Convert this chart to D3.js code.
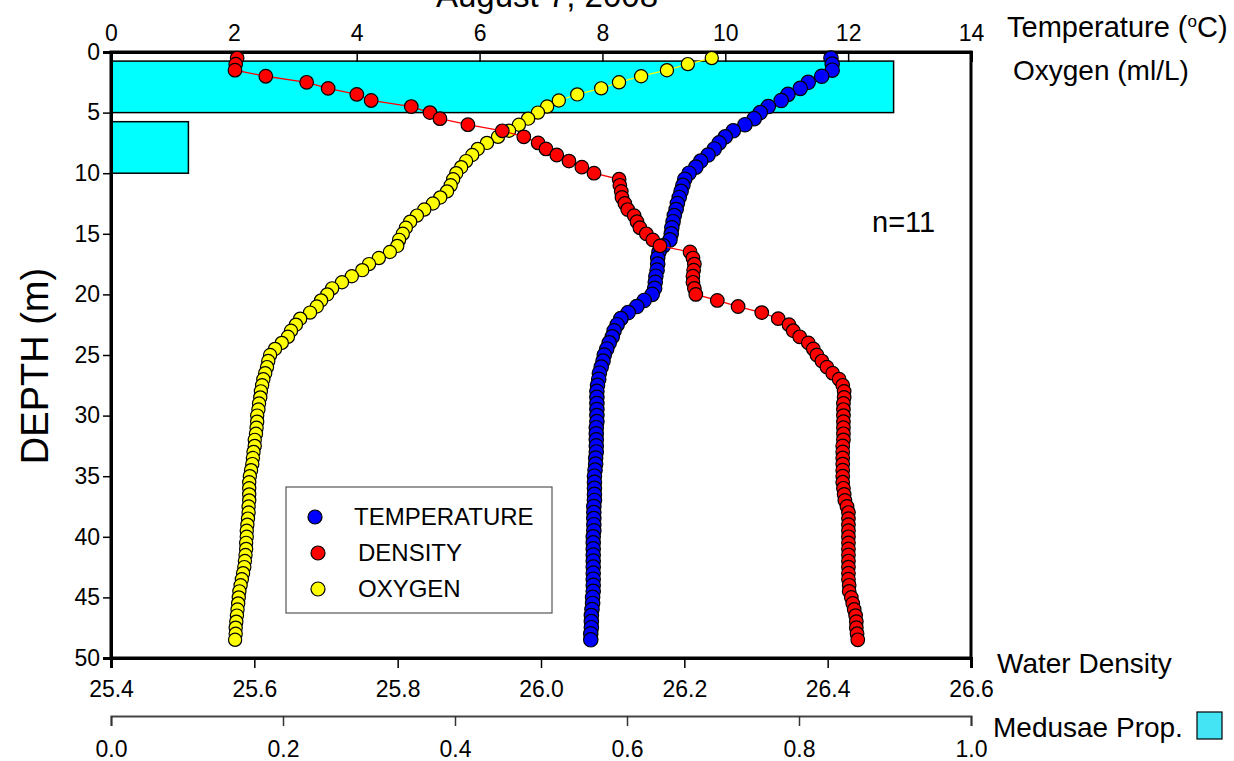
<!DOCTYPE html>
<html>
<head>
<meta charset="utf-8">
<script src="https://cdn.jsdelivr.net/npm/d3@7"></script>
<style>
	body { margin: 0; background: #fff; }
	svg { font-family: "Liberation Sans", Arial, sans-serif; }
</style>
</head>
<body>
<div id="chart"></div>
<script>
// depth of each CTD sample (m)
var depths = [0.5,1,1.5,2,2.5,3,3.5,4,4.5,5,5.5,6,6.5,7,7.5,8,8.5,9,9.5,10,
	10.5,11,11.5,12,12.5,13,13.5,14,14.5,15,15.5,16,16.5,17,17.5,18,18.5,19,19.5,20,
	20.5,21,21.5,22,22.5,23,23.5,24,24.5,25,25.5,26,26.5,27,27.5,28,28.5,29,29.5,30,
	30.5,31,31.5,32,32.5,33,33.5,34,34.5,35,35.5,36,36.5,37,37.5,38,38.5,39,39.5,40,
	40.5,41,41.5,42,42.5,43,43.5,44,44.5,45,45.5,46,46.5,47,47.5,48,48.5];

// temperature (oC), top axis
var temperature = [11.72,11.74,11.74,11.57,11.35,11.22,11.02,10.91,10.70,10.57,
	10.47,10.32,10.13,10.00,9.90,9.82,9.72,9.60,9.52,9.41,
	9.34,9.31,9.28,9.25,9.22,9.20,9.17,9.15,9.13,9.12,
	9.10,8.99,8.92,8.90,8.90,8.89,8.87,8.86,8.85,8.81,
	8.68,8.56,8.42,8.30,8.24,8.19,8.16,8.11,8.07,8.03,
	8.01,7.98,7.95,7.94,7.92,
	7.91,7.91,7.91,7.91,7.91,7.91,7.90,7.90,7.90,7.90,7.90,
	7.89,7.89,7.88,7.87,
	7.87,7.87,7.87,7.87,7.86,7.86,
	7.86,7.86,7.86,7.85,
	7.85,7.85,7.85,7.85,7.85,7.85,
	7.85,7.85,7.85,7.84,
	7.84,7.83,7.82,7.82,7.82,7.81,7.81];

// oxygen (ml/L), top axis
var oxygen = [9.78,9.39,9.05,8.63,8.27,7.98,7.59,7.29,7.10,6.95,
	6.79,6.64,6.48,6.30,6.12,5.97,5.88,5.78,5.70,5.62,
	5.57,5.53,5.47,5.36,5.24,5.10,4.98,4.87,4.80,4.75,
	4.69,4.66,4.54,4.36,4.20,4.09,3.92,3.76,3.60,3.52,
	3.42,3.35,3.24,3.08,3.01,2.93,2.88,2.78,2.67,
	2.59,2.56,2.54,2.51,2.48,2.46,2.44,2.43,2.41,2.40,
	2.38,2.38,2.37,2.36,2.34,2.34,2.32,2.31,2.30,2.28,
	2.26,2.25,2.25,2.25,2.25,2.24,2.24,2.23,2.22,2.21,
	2.21,2.20,2.20,2.19,2.18,2.17,2.15,2.13,2.11,2.09,
	2.08,2.07,2.06,2.05,2.04,2.03,2.03,2.02];

// water density (sigma-t), bottom axis
var density = [25.576,25.574,25.573,25.616,25.673,25.703,25.743,25.763,25.819,25.845,
	25.859,25.898,25.946,25.976,25.996,26.007,26.022,26.039,26.057,26.074,
	26.109,26.110,26.112,26.113,26.117,26.121,26.130,26.134,26.138,26.147,
	26.156,26.166,26.208,26.212,26.214,26.213,26.212,26.212,26.214,26.216,
	26.246,26.275,26.308,26.331,26.346,26.352,26.361,26.373,26.380,26.385,
	26.392,26.399,26.407,26.416,26.421,26.423,
	26.423,26.422,26.422,26.422,26.422,26.422,26.422,26.422,26.421,26.421,
	26.421,26.421,26.421,26.421,26.421,26.422,26.423,26.424,26.427,26.429,
	26.429,26.429,26.429,26.429,26.429,26.429,26.429,26.429,26.429,26.429,
	26.429,26.430,26.430,26.433,26.435,26.437,26.439,26.440,26.440,26.441,26.442];

// medusae proportion per depth bin
var medusaeBinTop = [0, 5];
var medusaeBinBottom = [5, 10];
var medusaeProp = [0.91, 0.09];

var topTicks = [0, 2, 4, 6, 8, 10, 12, 14];
var depthTicks = [0, 5, 10, 15, 20, 25, 30, 35, 40, 45, 50];
var densityTicks = [25.4, 25.6, 25.8, 26.0, 26.2, 26.4, 26.6];
var medusaeTicks = [0, 0.2, 0.4, 0.6, 0.8, 1.0];

var legendNames = ["TEMPERATURE", "DENSITY", "OXYGEN"];
var sampleCount = 11;

var W = 1234, H = 761;
var margins = { left: 111, right: 263, top: 52, bottom: 103 };

var svg = d3.select("#chart")
	.append("svg")
	.attr("width", W)
	.attr("height", H);

var x = d3.scaleLinear().domain([0, 14]).range([margins.left, W - margins.right]);
var xDen = d3.scaleLinear().domain([25.4, 26.6]).range([margins.left, W - margins.right]);
var xMed = d3.scaleLinear().domain([0, 1]).range([margins.left, W - margins.right]);
var y = d3.scaleLinear().domain([0, 50]).range([margins.top, H - margins.bottom]);

// medusae bars (85% of each 5 m bin, sitting at the bin bottom)
svg.selectAll("rect.med")
	.data(medusaeProp)
	.enter()
	.append("rect")
	.attr("class", "med")
	.attr("x", xMed(0))
	.attr("y", function(d, i) { return y(medusaeBinBottom[i] - 0.85 * (medusaeBinBottom[i] - medusaeBinTop[i])); })
	.attr("width", function(d) { return xMed(d) - xMed(0); })
	.attr("height", function(d, i) { return y(medusaeBinBottom[i]) - y(medusaeBinBottom[i] - 0.85 * (medusaeBinBottom[i] - medusaeBinTop[i])); })
	.style("fill", "#00ffff")
	.style("stroke", "black")
	.style("stroke-width", 1.5);

// axes
var topAxis = svg.append("g")
	.attr("transform", "translate(0," + y(0) + ")")
	.call(d3.axisTop(x).tickValues(topTicks).tickSize(-10).tickPadding(11).tickFormat(d3.format("d")));
var leftAxis = svg.append("g")
	.attr("transform", "translate(" + x(0) + ",0)")
	.call(d3.axisLeft(y).tickValues(depthTicks).tickSize(8).tickPadding(3).tickFormat(d3.format("d")));
var denAxis = svg.append("g")
	.attr("transform", "translate(0," + y(50) + ")")
	.call(d3.axisBottom(xDen).tickValues(densityTicks).tickSize(10).tickPadding(13).tickFormat(d3.format(".1f")));
var medAxis = svg.append("g")
	.attr("transform", "translate(0,716)")
	.call(d3.axisBottom(xMed).tickValues(medusaeTicks).tickSize(10).tickPadding(15).tickFormat(d3.format(".1f")));

[topAxis, leftAxis, denAxis, medAxis].forEach(function(a) {
	a.attr("font-size", 23).attr("font-family", "Liberation Sans, Arial, sans-serif");
	a.selectAll("text").attr("font-size", 23).style("font-size", "23px").style("fill", "black");
	a.selectAll("line").style("stroke", "black").style("stroke-width", 1.5);
	a.select(".domain").style("stroke", "black").style("stroke-width", 3);
});
medAxis.select(".domain").style("stroke", "#444").style("stroke-width", 2);
medAxis.selectAll("line").style("stroke", "#333");

// frame
svg.append("rect")
	.attr("x", x(0))
	.attr("y", y(0))
	.attr("width", x(14) - x(0))
	.attr("height", y(50) - y(0))
	.style("fill", "none")
	.style("stroke", "black")
	.style("stroke-width", 3);

// profiles
var series = [
	{ name: "OXYGEN", values: oxygen, scale: x, fill: "#ffff00", r: 6.6 },
	{ name: "TEMPERATURE", values: temperature, scale: x, fill: "#0000ff", r: 7.2 },
	{ name: "DENSITY", values: density, scale: xDen, fill: "#ff0000", r: 6.8 }
];

series.forEach(function(s) {
	var line = d3.line()
		.x(function(d, i) { return s.scale(d); })
		.y(function(d, i) { return y(depths[i]); });
	svg.append("path")
		.datum(s.values)
		.attr("d", line)
		.style("fill", "none")
		.style("stroke", s.fill)
		.style("stroke-width", 1.3);
	svg.selectAll("circle." + s.name)
		.data(s.values)
		.enter()
		.append("circle")
		.attr("class", s.name)
		.attr("cx", function(d) { return s.scale(d); })
		.attr("cy", function(d, i) { return y(depths[i]); })
		.attr("r", s.r)
		.style("fill", s.fill)
		.style("stroke", "black")
		.style("stroke-width", 1.2);
});

// legend
var legendColors = { TEMPERATURE: "#0000ff", DENSITY: "#ff0000", OXYGEN: "#ffff00" };
var legend = svg.append("g").attr("transform", "translate(286,487)");
legend.append("rect")
	.attr("width", 266)
	.attr("height", 126)
	.style("fill", "white")
	.style("stroke", "#555")
	.style("stroke-width", 1.2);
legendNames.forEach(function(n, i) {
	legend.append("circle")
		.attr("cx", i == 0 ? 29 : 32)
		.attr("cy", 30 + i * 36)
		.attr("r", 7)
		.style("fill", legendColors[n])
		.style("stroke", "black")
		.style("stroke-width", 1.2);
	legend.append("text")
		.attr("x", i == 0 ? 68 : 72)
		.attr("y", 30 + i * 36)
		.attr("dy", "0.35em")
		.style("font-size", "24px")
		.text(n);
});

// texts
svg.append("text")
	.attr("x", 547)
	.attr("y", 7)
	.attr("text-anchor", "middle")
	.style("font-size", "33px")
	.text("August 7, 2008");

svg.append("text")
	.attr("transform", "translate(48,366) rotate(-90)")
	.attr("text-anchor", "middle")
	.style("font-size", "38px")
	.text("DEPTH (m)");

var tempLabel = svg.append("text")
	.attr("x", 1007)
	.attr("y", 37)
	.style("font-size", "29px")
	.text("Temperature (");
tempLabel.append("tspan").attr("dy", -10).style("font-size", "17px").text("o");
tempLabel.append("tspan").attr("dy", 10).text("C)");

svg.append("text")
	.attr("x", 1013)
	.attr("y", 80)
	.style("font-size", "28px")
	.text("Oxygen (ml/L)");

svg.append("text")
	.attr("x", 997)
	.attr("y", 673)
	.style("font-size", "28px")
	.text("Water Density");

svg.append("text")
	.attr("x", 993)
	.attr("y", 737)
	.style("font-size", "28px")
	.text("Medusae Prop.");
svg.append("rect")
	.attr("x", 1197)
	.attr("y", 712)
	.attr("width", 25)
	.attr("height", 27)
	.style("fill", "#44e4f4")
	.style("stroke", "black")
	.style("stroke-width", 1.2);

svg.append("text")
	.attr("x", 872)
	.attr("y", 232)
	.style("font-size", "29px")
	.text("n=" + sampleCount);
</script>
</body>
</html>
